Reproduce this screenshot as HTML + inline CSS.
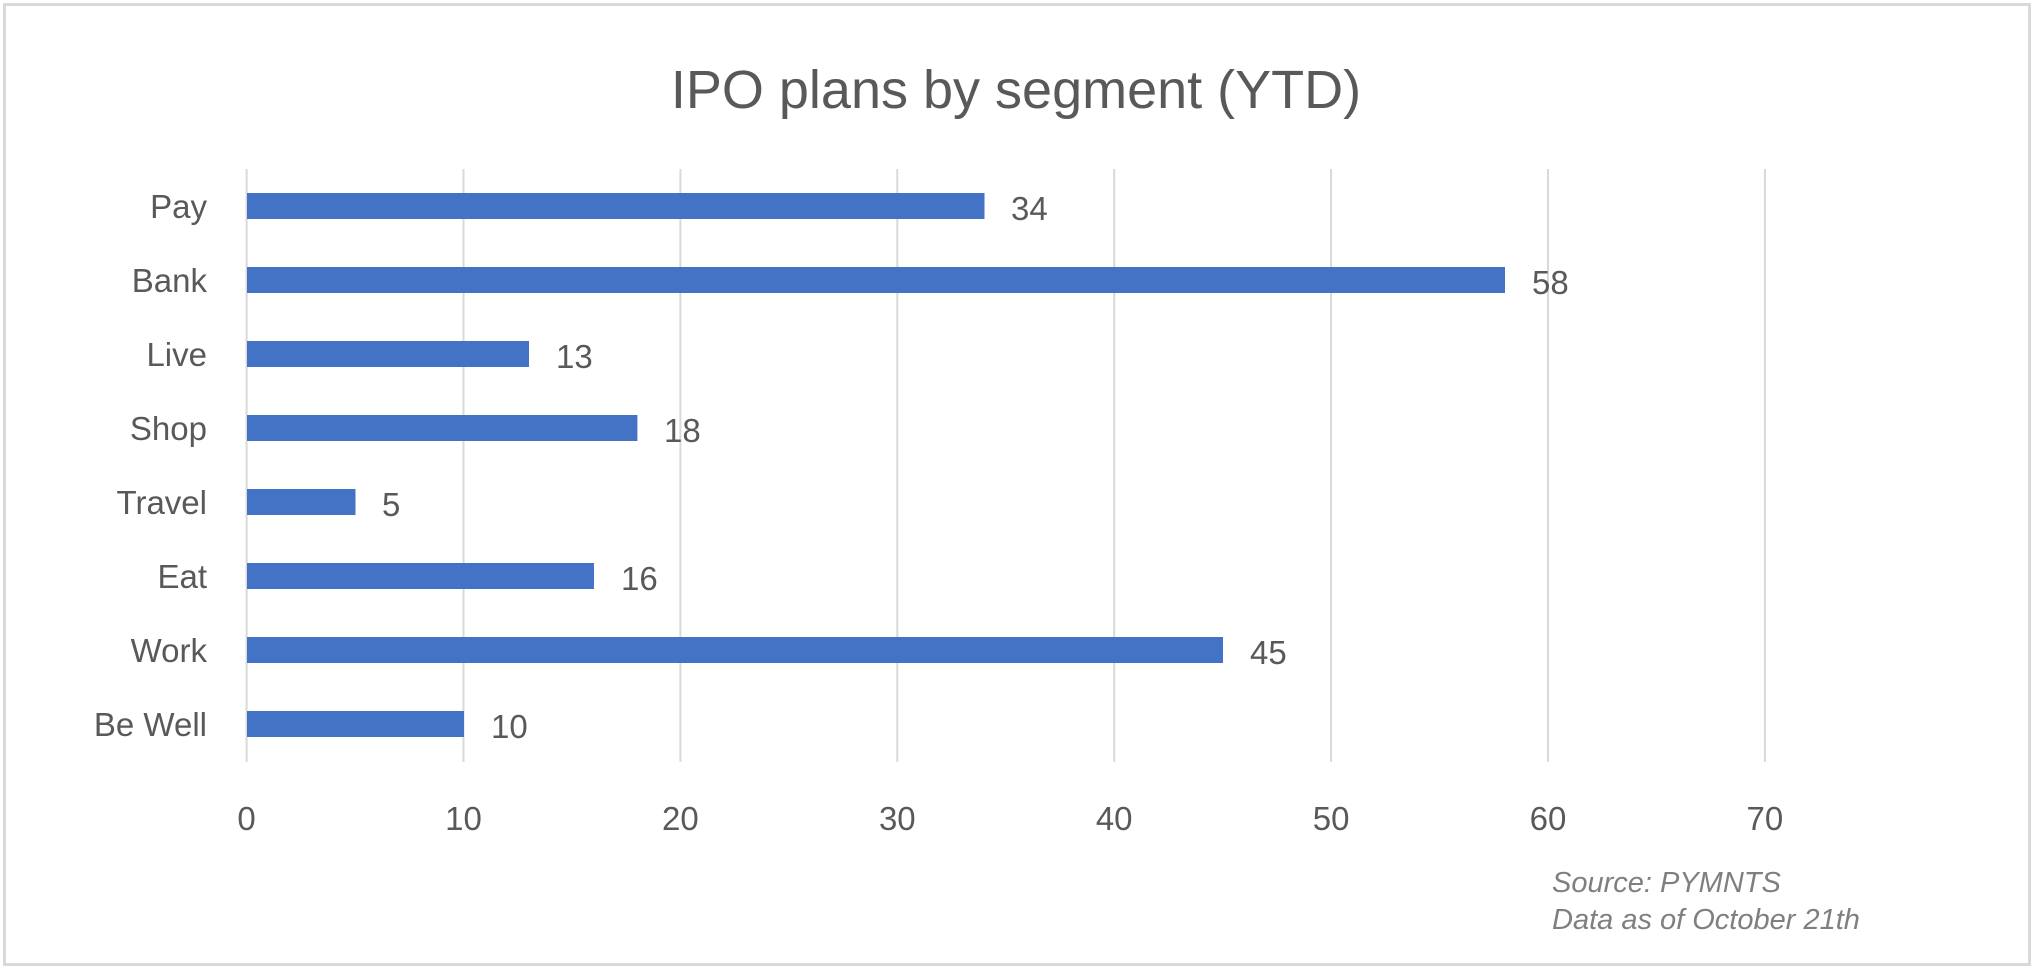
<!DOCTYPE html>
<html><head><meta charset="utf-8"><style>
html,body{margin:0;padding:0;background:#fff;}
svg{display:block;}
text{font-family:"Liberation Sans",Arial,sans-serif;fill:#595959;}
</style></head><body>
<svg width="2035" height="971" viewBox="0 0 2035 971" xmlns="http://www.w3.org/2000/svg">
<rect x="0" y="0" width="2035" height="971" fill="#fff"/>
<rect x="4.5" y="4.5" width="2025" height="960" fill="none" stroke="#d9d9d9" stroke-width="3"/>
<text x="1016" y="108" font-size="54" text-anchor="middle">IPO plans by segment (YTD)</text>
<g stroke="#d9d9d9" stroke-width="2">
<line x1="246.6" y1="169" x2="246.6" y2="762"/>
<line x1="463.5" y1="169" x2="463.5" y2="762"/>
<line x1="680.4" y1="169" x2="680.4" y2="762"/>
<line x1="897.3" y1="169" x2="897.3" y2="762"/>
<line x1="1114.2" y1="169" x2="1114.2" y2="762"/>
<line x1="1331.1" y1="169" x2="1331.1" y2="762"/>
<line x1="1548" y1="169" x2="1548" y2="762"/>
<line x1="1764.9" y1="169" x2="1764.9" y2="762"/>
</g>
<g fill="#4472c4">
<rect x="247" y="193" width="737.5" height="26"/>
<rect x="247" y="267" width="1258" height="26"/>
<rect x="247" y="341" width="282" height="26"/>
<rect x="247" y="415" width="390.4" height="26"/>
<rect x="247" y="489" width="108.5" height="26"/>
<rect x="247" y="563" width="347" height="26"/>
<rect x="247" y="637" width="976" height="26"/>
<rect x="247" y="711" width="217" height="26"/>
</g>
<g font-size="33" text-anchor="end">
<text x="207" y="218">Pay</text>
<text x="207" y="292">Bank</text>
<text x="207" y="366">Live</text>
<text x="207" y="440">Shop</text>
<text x="207" y="514">Travel</text>
<text x="207" y="588">Eat</text>
<text x="207" y="662">Work</text>
<text x="207" y="736">Be Well</text>
</g>
<g font-size="33" fill="#404040">
<text x="1011" y="220">34</text>
<text x="1532" y="294">58</text>
<text x="556" y="368">13</text>
<text x="664" y="442">18</text>
<text x="382" y="516">5</text>
<text x="621" y="590">16</text>
<text x="1250" y="664">45</text>
<text x="491" y="738">10</text>
</g>
<g font-size="33" text-anchor="middle">
<text x="246.6" y="830">0</text>
<text x="463.5" y="830">10</text>
<text x="680.4" y="830">20</text>
<text x="897.3" y="830">30</text>
<text x="1114.2" y="830">40</text>
<text x="1331.1" y="830">50</text>
<text x="1548" y="830">60</text>
<text x="1764.9" y="830">70</text>
</g>
<g font-size="29" font-style="italic">
<text x="1552" y="892" style="fill:#7f7f7f">Source: PYMNTS</text>
<text x="1552" y="929" style="fill:#7f7f7f">Data as of October 21th</text>
</g>
</svg>
</body></html>
